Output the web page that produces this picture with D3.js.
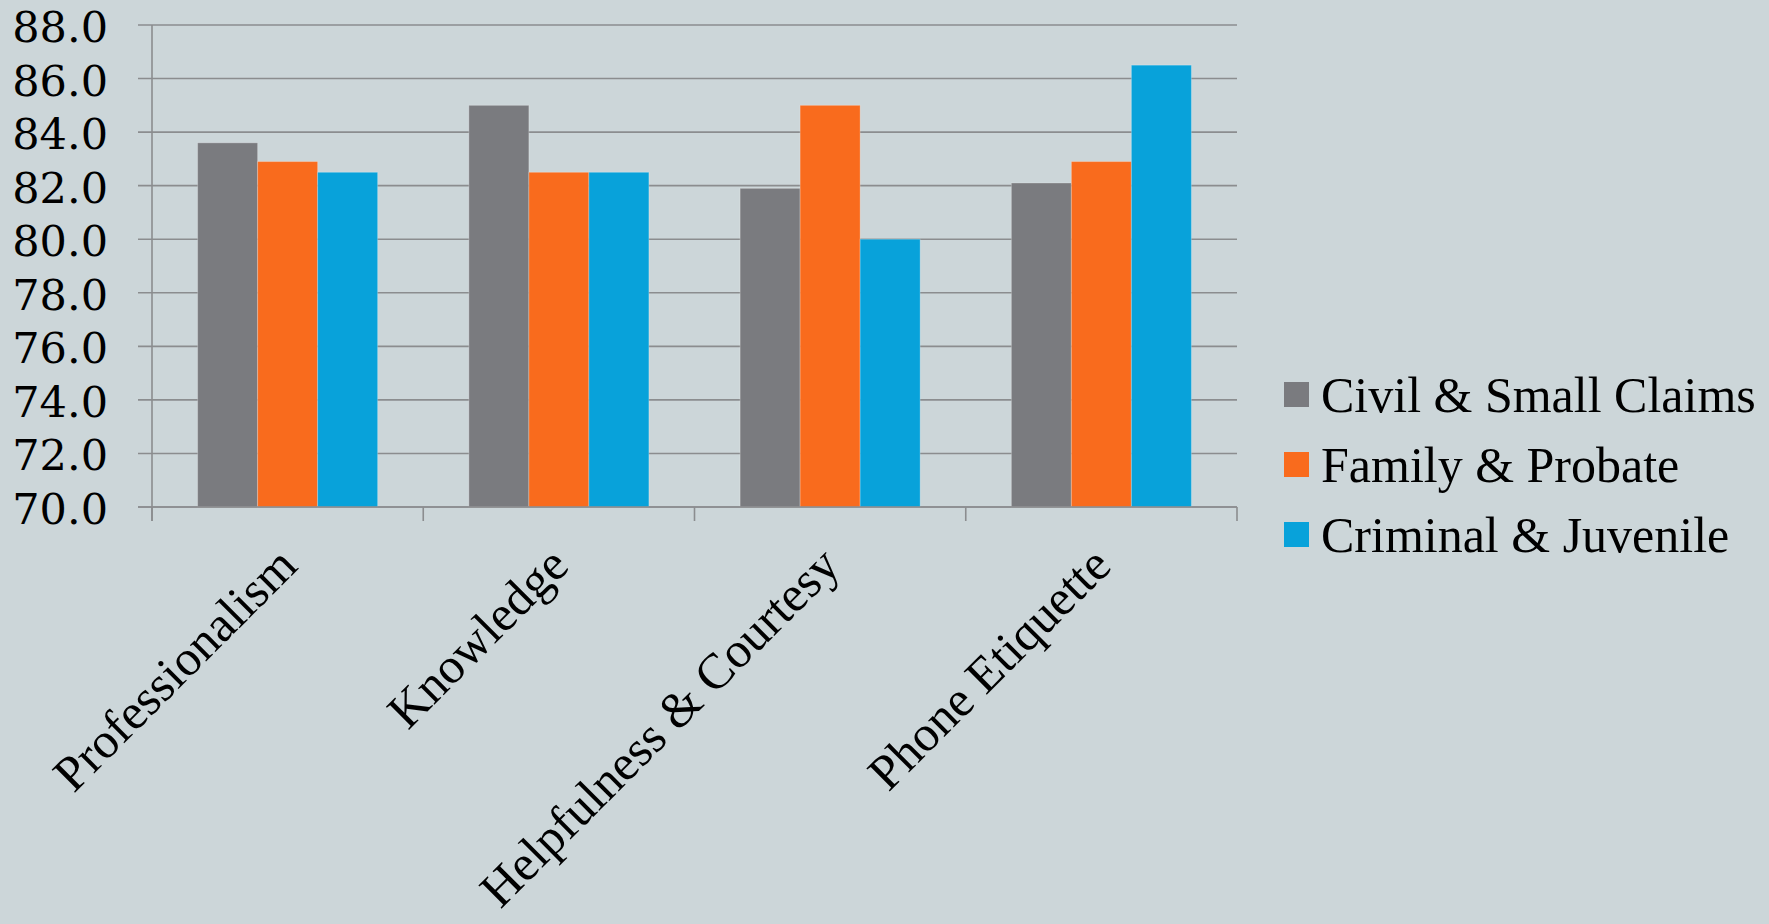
<!DOCTYPE html>
<html>
<head>
<meta charset="utf-8">
<script src="https://cdn.jsdelivr.net/npm/d3@7"></script>
<style>
  html, body { margin: 0; padding: 0; background: #ccd6d9; }
  svg { display: block; }
  .tick-y text { font-family: "DejaVu Serif", serif; font-size: 43px; fill: #000; }
  .cat text, .legend text { font-family: "Liberation Serif", serif; fill: #000; }
</style>
</head>
<body>
<svg id="chart" width="1769" height="924"></svg>
<script>
// Survey scores by category and court division
const categories = ["Professionalism", "Knowledge", "Helpfulness & Courtesy", "Phone Etiquette"];
const seriesNames = ["Civil & Small Claims", "Family & Probate", "Criminal & Juvenile"];
const civilSmallClaims = [83.6, 85.0, 81.9, 82.1];
const familyProbate = [82.9, 82.5, 85.0, 82.9];
const criminalJuvenile = [82.5, 82.5, 80.0, 86.5];
const yTicks = [70, 72, 74, 76, 78, 80, 82, 84, 86, 88];
const colors = ["#7a7b7f", "#f96b1d", "#08a2da"];

const seriesValues = [civilSmallClaims, familyProbate, criminalJuvenile];
const rows = categories.map((c, i) => ({
  category: c,
  values: seriesNames.map((s, j) => ({ series: s, value: seriesValues[j][i] }))
}));

const svg = d3.select("#chart");
const plot = { left: 152, right: 1237, top: 25, bottom: 507 };

const y = d3.scaleLinear().domain([70, 88]).range([plot.bottom, plot.top]);
const x0 = d3.scaleBand().domain(categories).range([plot.left, plot.right]).padding(0);
const x1 = d3.scaleBand().domain(seriesNames).range([0, x0.bandwidth()])
  .paddingInner(0).paddingOuter(0.76);
const color = d3.scaleOrdinal().domain(seriesNames).range(colors);

// Horizontal gridlines with left tick stubs
const gridG = svg.append("g").attr("class", "tick-y");
gridG.selectAll("line.grid").data(yTicks).join("line")
  .attr("class", "grid")
  .attr("x1", plot.left - 14).attr("x2", plot.right)
  .attr("y1", d => y(d)).attr("y2", d => y(d))
  .attr("stroke", "#8b8d8f").attr("stroke-width", 1.6);
gridG.selectAll("text").data(yTicks).join("text")
  .attr("x", 108).attr("y", d => y(d) + 2)
  .attr("text-anchor", "end").attr("dominant-baseline", "central")
  .text(d => d3.format(".1f")(d));

// Bars
const groups = svg.append("g").selectAll("g").data(rows).join("g")
  .attr("transform", d => `translate(${x0(d.category)},0)`);
groups.selectAll("rect").data(d => d.values).join("rect")
  .attr("x", d => x1(d.series))
  .attr("width", x1.bandwidth())
  .attr("y", d => y(d.value))
  .attr("height", d => y(70) - y(d.value))
  .attr("fill", d => color(d.series))
  .attr("stroke", "rgba(255,255,255,0.25)")
  .attr("stroke-width", 1);

// Axis lines
svg.append("line")
  .attr("x1", plot.left).attr("x2", plot.left)
  .attr("y1", plot.top).attr("y2", plot.bottom + 14)
  .attr("stroke", "#8b8d8f").attr("stroke-width", 1.6);
svg.append("line")
  .attr("x1", plot.left - 14).attr("x2", plot.right)
  .attr("y1", plot.bottom).attr("y2", plot.bottom)
  .attr("stroke", "#8b8d8f").attr("stroke-width", 1.6);
const catEdges = categories.map(c => x0(c)).concat([plot.right]);
svg.append("g").selectAll("line").data(catEdges).join("line")
  .attr("x1", d => d).attr("x2", d => d)
  .attr("y1", plot.bottom).attr("y2", plot.bottom + 14)
  .attr("stroke", "#8b8d8f").attr("stroke-width", 1.6);

// Category labels, rotated
svg.append("g").attr("class", "cat").selectAll("text").data(categories).join("text")
  .attr("transform", d => `translate(${x0(d) + x0.bandwidth() / 2 + 12},${plot.bottom + 61}) rotate(-45)`)
  .attr("text-anchor", "end")
  .attr("font-size", 50)
  .text(d => d);

// Legend
const legend = svg.append("g").attr("class", "legend")
  .selectAll("g").data(seriesNames).join("g")
  .attr("transform", (d, i) => `translate(1284,${394.5 + i * 70})`);
legend.append("rect")
  .attr("x", 0).attr("y", -12.5).attr("width", 25).attr("height", 25)
  .attr("fill", d => color(d));
legend.append("text")
  .attr("x", 37).attr("y", 0)
  .attr("dominant-baseline", "central")
  .attr("font-size", 50)
  .text(d => d);
</script>
</body>
</html>
